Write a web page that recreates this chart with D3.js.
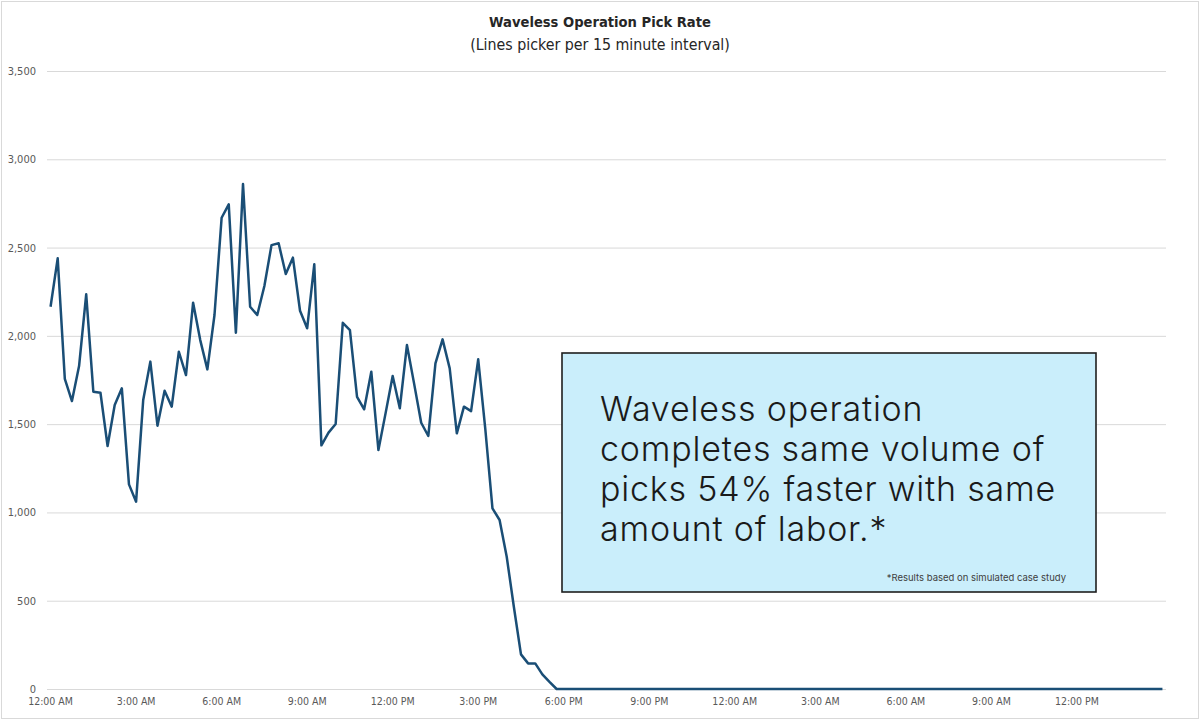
<!DOCTYPE html>
<html>
<head>
<meta charset="utf-8">
<script src="https://cdn.jsdelivr.net/npm/d3@7"></script>
<style>
  body { margin: 0; background: #fff; }
  text { font-family: 'Liberation Sans Narrow', 'DejaVu Sans Condensed', sans-serif; }
</style>
</head>
<body>
<div id="chart-area"></div>
<script>
// pick rate, one value per 15 minute interval starting 12:00 AM
const pickRate = [
  2165, 2439, 1756, 1631, 1829, 2235, 1684, 1678, 1376, 1608, 1703, 1159,
  1061, 1637, 1854, 1491, 1689, 1599, 1910, 1778, 2188, 1976, 1810, 2118,
  2669, 2745, 2018, 2860, 2165, 2118, 2282, 2514, 2524, 2350, 2443, 2142,
  2043, 2405, 1380, 1452, 1501, 2074, 2033, 1655, 1584, 1797, 1353, 1561,
  1773, 1590, 1948, 1731, 1508, 1433, 1844, 1980, 1816, 1448, 1599, 1574,
  1867, 1470, 1023, 957, 749, 466, 196, 145, 145, 83, 40, 0,
  0, 0, 0, 0, 0, 0, 0, 0, 0, 0, 0, 0,
  0, 0, 0, 0, 0, 0, 0, 0, 0, 0, 0, 0,
  0, 0, 0, 0, 0, 0, 0, 0, 0, 0, 0, 0,
  0, 0, 0, 0, 0, 0, 0, 0, 0, 0, 0, 0,
  0, 0, 0, 0, 0, 0, 0, 0, 0, 0, 0, 0,
  0, 0, 0, 0, 0, 0, 0, 0, 0, 0, 0, 0,
  0, 0, 0, 0, 0, 0, 0, 0, 0, 0, 0, 0,
  0
];

// x labels shown every 12 intervals (3 hours)
const timeLabels = ['12:00 AM', '3:00 AM', '6:00 AM', '9:00 AM', '12:00 PM', '3:00 PM',
  '6:00 PM', '9:00 PM', '12:00 AM', '3:00 AM', '6:00 AM', '9:00 AM', '12:00 PM'];

const yTicks = [0, 500, 1000, 1500, 2000, 2500, 3000, 3500];

const noteLines = ['Waveless operation', 'completes same volume of',
  'picks 54% faster with same', 'amount of labor.*'];
const footnote = '*Results based on simulated case study';

const W = 1200, H = 721;
const margins = { top: 71, right: 34, bottom: 32, left: 47 };
const labelFont = "'Liberation Sans Narrow', 'DejaVu Sans Condensed', sans-serif";
const noteFont = "Inter, 'Open Sans', sans-serif";

const svg = d3.select('#chart-area')
  .append('svg')
  .attr('width', W)
  .attr('height', H);

svg.append('rect')
  .attr('x', 1.5).attr('y', 1.5)
  .attr('width', W - 3).attr('height', H - 4)
  .attr('fill', '#fff')
  .attr('stroke', '#d9d9d9');

const x = d3.scaleBand()
  .domain(d3.range(pickRate.length))
  .range([margins.left, W - margins.right]);

const y = d3.scaleLinear()
  .domain([0, 3500])
  .range([H - margins.bottom, margins.top]);

const px = (i) => x(i) + x.bandwidth() / 2;

// title
svg.append('text')
  .attr('x', 600).attr('y', 27)
  .attr('text-anchor', 'middle')
  .attr('font-size', 14.6)
  .attr('font-weight', 'bold')
  .attr('fill', '#262626')
  .text('Waveless Operation Pick Rate');

svg.append('text')
  .attr('x', 600).attr('y', 50)
  .attr('text-anchor', 'middle')
  .attr('font-size', 15.8)
  .attr('fill', '#262626')
  .text('(Lines picker per 15 minute interval)');

// gridlines + y labels
const yAxis = svg.append('g')
  .attr('transform', 'translate(' + margins.left + ',0)')
  .call(d3.axisLeft(y)
    .tickValues(yTicks)
    .tickFormat(d3.format(','))
    .tickSize(-(W - margins.left - margins.right))
    .tickPadding(11));

yAxis.select('.domain').remove();
yAxis.selectAll('line').attr('stroke', '#d9d9d9');
yAxis.selectAll('text')
  .attr('font-size', 11)
  .attr('fill', '#595959')
  .style('font-family', labelFont);

// x labels
const xAxis = svg.append('g')
  .attr('transform', 'translate(0,' + (H - margins.bottom) + ')')
  .call(d3.axisBottom(x)
    .tickValues(d3.range(0, pickRate.length, 12))
    .tickFormat((d, i) => timeLabels[i])
    .tickSize(0)
    .tickPadding(9));

xAxis.select('.domain').remove();
xAxis.selectAll('text')
  .attr('font-size', 10.5)
  .attr('fill', '#595959')
  .style('font-family', labelFont);

// series
const line = d3.line()
  .x((d, i) => px(i))
  .y((d) => y(d));

svg.append('path')
  .datum(pickRate)
  .attr('fill', 'none')
  .attr('stroke', '#1a4e76')
  .attr('stroke-width', 2.5)
  .attr('stroke-linejoin', 'round')
  .attr('d', line);

// callout box
const note = svg.append('g');

note.append('rect')
  .attr('x', 562).attr('y', 353)
  .attr('width', 534).attr('height', 239)
  .attr('fill', '#caeefb')
  .attr('stroke', '#1f1f1f')
  .attr('stroke-width', 1.6);

note.selectAll('text.line')
  .data(noteLines)
  .enter()
  .append('text')
  .attr('class', 'line')
  .attr('x', 600)
  .attr('y', (d, i) => 421 + i * 40)
  .attr('font-size', 34)
  .attr('letter-spacing', 0.8)
  .attr('fill', '#1a1a1a')
  .style('font-family', noteFont)
  .style('font-weight', 300)
  .text((d) => d);

note.append('text')
  .attr('x', 1066).attr('y', 581)
  .attr('text-anchor', 'end')
  .attr('font-size', 9.5)
  .attr('fill', '#404040')
  .style('font-family', noteFont)
  .text(footnote);
</script>
</body>
</html>
